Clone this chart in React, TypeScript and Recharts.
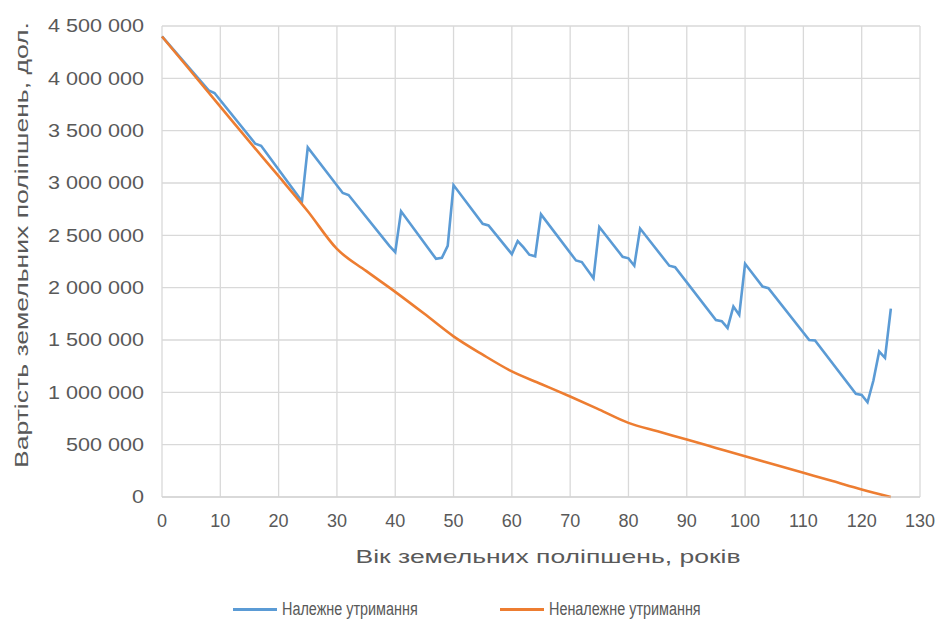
import React from 'react';
import { LineChart, Line, XAxis, YAxis, CartesianGrid, Legend, Label } from 'recharts';

// Належне утримання (blue)
const properAges = [0, 8, 9, 16, 17, 24, 25, 31, 32, 39, 40, 41, 47, 48, 49, 50, 55, 56, 60, 61, 62, 63, 64, 65, 71, 72, 74, 75, 79, 80, 81, 82, 87, 88, 95, 96, 97, 98, 99, 100, 103, 104, 111, 112, 119, 120, 121, 122, 123, 124, 125];
const properValues = [4400000, 3885000, 3860000, 3375000, 3355000, 2825000, 3340000, 2905000, 2885000, 2400000, 2340000, 2730000, 2275000, 2285000, 2400000, 2980000, 2610000, 2595000, 2320000, 2445000, 2385000, 2315000, 2300000, 2700000, 2260000, 2245000, 2090000, 2580000, 2295000, 2280000, 2210000, 2565000, 2210000, 2195000, 1690000, 1680000, 1615000, 1820000, 1740000, 2228000, 2010000, 1995000, 1500000, 1495000, 985000, 975000, 905000, 1110000, 1390000, 1330000, 1800000];

// Неналежне утримання (orange)
const improperAges = [0, 5, 10, 15, 20, 25, 30, 35, 40, 45, 50, 55, 60, 65, 70, 75, 80, 85, 90, 95, 100, 105, 110, 115, 120, 125];
const improperValues = [4400000, 4065000, 3730000, 3395000, 3065000, 2730000, 2370000, 2160000, 1960000, 1750000, 1535000, 1360000, 1200000, 1080000, 960000, 835000, 708000, 628000, 549000, 469000, 389000, 310000, 231000, 152000, 72000, 0];

const xTicks = [0, 10, 20, 30, 40, 50, 60, 70, 80, 90, 100, 110, 120, 130];
const yTicks = [0, 500000, 1000000, 1500000, 2000000, 2500000, 3000000, 3500000, 4000000, 4500000];

const seriesNames = ['Належне утримання', 'Неналежне утримання'];
const seriesColors = ['#5b9bd5', '#ed7d31'];

const properData = properAges.map((age, i) => ({ age, value: properValues[i] }));
const improperData = improperAges.map((age, i) => ({ age, value: improperValues[i] }));

const FONT = '"Liberation Sans", Arial, sans-serif';
const TEXT = '#595959';

const fmt = (v: number) => String(v).replace(/\B(?=(\d{3})+(?!\d))/g, ' ');

const YTick = (props: any) => {
  const { x, y, payload } = props;
  return (
    <text
      x={x}
      y={y}
      textAnchor="end"
      dominantBaseline="central"
      fontSize={18}
      fontFamily={FONT}
      fill={TEXT}
      transform={`translate(${x} ${y}) scale(1.2 1) translate(${-x} ${-y})`}
    >
      {fmt(payload.value)}
    </text>
  );
};

const XTick = (props: any) => {
  const { x, y, payload } = props;
  return (
    <text x={x} y={y + 16} textAnchor="middle" dominantBaseline="central" fontSize={18} fontFamily={FONT} fill={TEXT}>
      {payload.value}
    </text>
  );
};

const legendLeft = [233, 500];

const renderLegend = () => (
  <div style={{ position: 'relative', height: 24, fontFamily: FONT, fontSize: 18, color: TEXT }}>
    {seriesNames.map((name, i) => (
      <div
        key={name}
        style={{ position: 'absolute', left: legendLeft[i], top: 0, height: 24, display: 'flex', alignItems: 'center', whiteSpace: 'nowrap' }}
      >
        <span style={{ display: 'inline-block', width: 44, height: 3, background: seriesColors[i], marginRight: 5 }} />
        <span style={{ display: 'inline-block', transform: 'scaleX(0.8)', transformOrigin: 'left center' }}>{name}</span>
      </div>
    ))}
  </div>
);

export default function App() {
  return (
    <div style={{ position: 'fixed', left: 0, top: 0, width: 943, height: 637, background: '#fff' }}>
      <LineChart width={943} height={637} margin={{ top: 26, right: 23, bottom: 16, left: 0 }}>
        <CartesianGrid stroke="#d9d9d9" strokeWidth={1.3} />
        <XAxis
          type="number"
          dataKey="age"
          domain={[0, 130]}
          ticks={xTicks}
          interval={0}
          height={100}
          tickLine={false}
          axisLine={{ stroke: '#d0d0d0' }}
          tick={<XTick />}
        >
          <Label
            content={() => (
              <text x={548} y={556} textAnchor="middle" dominantBaseline="central" fontSize={19} fontFamily={FONT} fill={TEXT} textLength={385} lengthAdjust="spacingAndGlyphs">
                Вік земельних поліпшень, років
              </text>
            )}
          />
        </XAxis>
        <YAxis
          type="number"
          domain={[0, 4500000]}
          ticks={yTicks}
          interval={0}
          width={162}
          tickLine={false}
          axisLine={false}
          tickMargin={12}
          tick={<YTick />}
        >
          <Label
            content={() => (
              <text x={22} y={245} textAnchor="middle" dominantBaseline="central" fontSize={18} fontFamily={FONT} fill={TEXT} transform="rotate(-90 22 245)" textLength={446} lengthAdjust="spacingAndGlyphs">
                Вартість земельних поліпшень, дол.
              </text>
            )}
          />
        </YAxis>
        <Legend verticalAlign="bottom" content={renderLegend} />
        <Line
          data={properData}
          dataKey="value"
          name={seriesNames[0]}
          type="linear"
          stroke={seriesColors[0]}
          strokeWidth={2.6}
          dot={false}
          isAnimationActive={false}
        />
        <Line
          data={improperData}
          dataKey="value"
          name={seriesNames[1]}
          type="monotone"
          stroke={seriesColors[1]}
          strokeWidth={2.6}
          dot={false}
          isAnimationActive={false}
        />
      </LineChart>
    </div>
  );
}
